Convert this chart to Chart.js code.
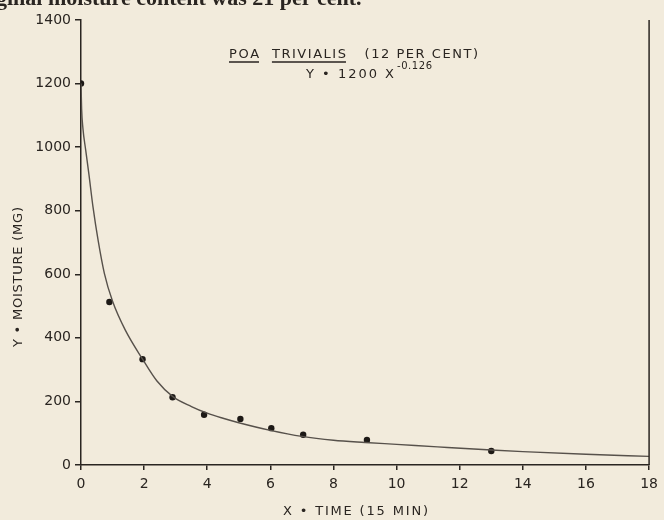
<!DOCTYPE html>
<html>
<head>
<meta charset="utf-8">
<script src="https://cdn.jsdelivr.net/npm/chart.js@4.4.1/dist/chart.umd.min.js"></script>
<style>
  html, body { margin: 0; padding: 0; background: #f2ebdc; }
</style>
</head>
<body>
<canvas id="chart" width="664" height="520"></canvas>
<script>
// Measured moisture (mg) at each time step (15 min units)
const pointTimes = [0, 0.9, 1.95, 2.9, 3.9, 5.05, 6.03, 7.04, 9.06, 13];
const pointMoisture = [1200, 513, 333, 213, 158, 145, 116, 95, 79, 44];

// Fitted curve
const curveTimes = [0, 0.02, 0.06, 0.15, 0.25, 0.38, 0.54, 0.74, 1.0, 1.4, 1.95, 2.4, 2.9, 3.5, 4, 4.5, 5, 6, 7, 8, 9, 10, 11.3, 13, 14, 16, 18];
const curveMoisture = [1200, 1120, 1060, 990, 915, 812, 708, 603, 515, 425, 333, 265, 216, 184, 163, 147, 133, 109, 90, 78, 71, 65, 57, 47, 42, 34, 27];

// Tick labels
const xTicks = [0, 2, 4, 6, 8, 10, 12, 14, 16, 18];
const yTicks = [0, 200, 400, 600, 800, 1000, 1200, 1400];

const title = "POA  TRIVIALIS   (12 PER CENT)";
const equation = "Y • 1200 X";
const exponent = "-0.126";
const xTitle = "X • TIME (15 MIN)";
const yTitle = "Y • MOISTURE (MG)";
const pageText = "ginal moisture content was 21 per cent.";

const PAPER = "#f2ebdc";
const INK = "#2a2521";

Chart.defaults.font.family = "'DejaVu Sans', sans-serif";
Chart.defaults.color = INK;

// draw text letter by letter so it fills a given width, returns char start/end positions
function drawSpaced(c, text, x, y, width) {
    const chars = [...text];
    const natural = chars.reduce((s, ch) => s + c.measureText(ch).width, 0);
    const gap = chars.length > 1 ? (width - natural) / (chars.length - 1) : 0;
    let cx = x;
    const pos = [];
    chars.forEach(ch => {
        const w = c.measureText(ch).width;
        pos.push([cx, cx + w]);
        c.fillText(ch, cx, y);
        cx += w + gap;
    });
    return pos;
}

const paper = {
    id: "paper",
    beforeDraw(chart) {
        const c = chart.ctx;
        c.save();
        c.fillStyle = PAPER;
        c.fillRect(0, 0, chart.width, chart.height);
        c.restore();
    }
};

const decorations = {
    id: "decorations",
    afterDraw(chart) {
        const c = chart.ctx;
        const a = chart.chartArea;
        c.save();

        // right frame line
        c.strokeStyle = INK;
        c.lineWidth = 1.5;
        c.beginPath();
        c.moveTo(a.right, a.top);
        c.lineTo(a.right, a.bottom);
        c.stroke();

        c.fillStyle = INK;
        c.textBaseline = "alphabetic";
        c.textAlign = "left";

        // cut off line of page text at the very top
        c.font = "bold 22px 'Liberation Serif', serif";
        c.fillText(pageText, -4, 5);

        // title with underlined species name
        c.font = "13px 'DejaVu Sans', sans-serif";
        const pos = drawSpaced(c, title, 229, 58, 249);
        c.lineWidth = 1.3;
        c.beginPath();
        c.moveTo(pos[0][0], 62); c.lineTo(pos[2][1], 62);
        c.moveTo(pos[5][0], 62); c.lineTo(pos[13][1], 62);
        c.stroke();

        // equation
        drawSpaced(c, equation, 306, 78, 88);
        c.font = "10px 'DejaVu Sans', sans-serif";
        drawSpaced(c, exponent, 397, 69, 35);

        // axis titles
        c.font = "13px 'DejaVu Sans', sans-serif";
        drawSpaced(c, xTitle, 283, 515, 145);
        c.translate(22, 277);
        c.rotate(-Math.PI / 2);
        drawSpaced(c, yTitle, -70, 0, 140);

        c.restore();
    }
};

const ctx = document.getElementById("chart").getContext("2d");
new Chart(ctx, {
    type: "scatter",
    data: {
        datasets: [
            {
                label: "Fitted curve",
                data: curveTimes.map((t, i) => ({ x: t, y: curveMoisture[i] })),
                showLine: true,
                borderColor: "#57514b",
                borderWidth: 1.4,
                pointRadius: 0,
                cubicInterpolationMode: "monotone",
                fill: false
            },
            {
                label: "Observed",
                data: pointTimes.map((t, i) => ({ x: t, y: pointMoisture[i] })),
                pointRadius: 3.2,
                pointBackgroundColor: "#1d1916",
                pointBorderColor: "#1d1916",
                pointBorderWidth: 0
            }
        ]
    },
    options: {
        responsive: false,
        animation: false,
        layout: { padding: { top: 20, right: 10, left: 0, bottom: 0 } },
        plugins: { legend: { display: false }, tooltip: { enabled: false } },
        scales: {
            x: {
                type: "linear",
                min: 0, max: 18,
                afterBuildTicks(s) { s.ticks = xTicks.map(v => ({ value: v })); },
                afterFit(s) { s.height = 55; },
                ticks: { padding: 6, color: INK, font: { size: 14 }, callback: v => String(v) },
                grid: { drawOnChartArea: false, tickLength: 5, color: INK, lineWidth: 1.5 },
                border: { color: INK, width: 1.5 }
            },
            y: {
                min: 0, max: 1400,
                afterBuildTicks(s) { s.ticks = yTicks.map(v => ({ value: v })); },
                afterFit(s) { s.width = 81; },
                ticks: { padding: 4, color: INK, font: { size: 14 }, callback: v => String(v) },
                grid: { drawOnChartArea: false, tickLength: 6, color: INK, lineWidth: 1.5 },
                border: { color: INK, width: 1.5 }
            }
        }
    },
    plugins: [paper, decorations]
});
</script>
</body>
</html>
